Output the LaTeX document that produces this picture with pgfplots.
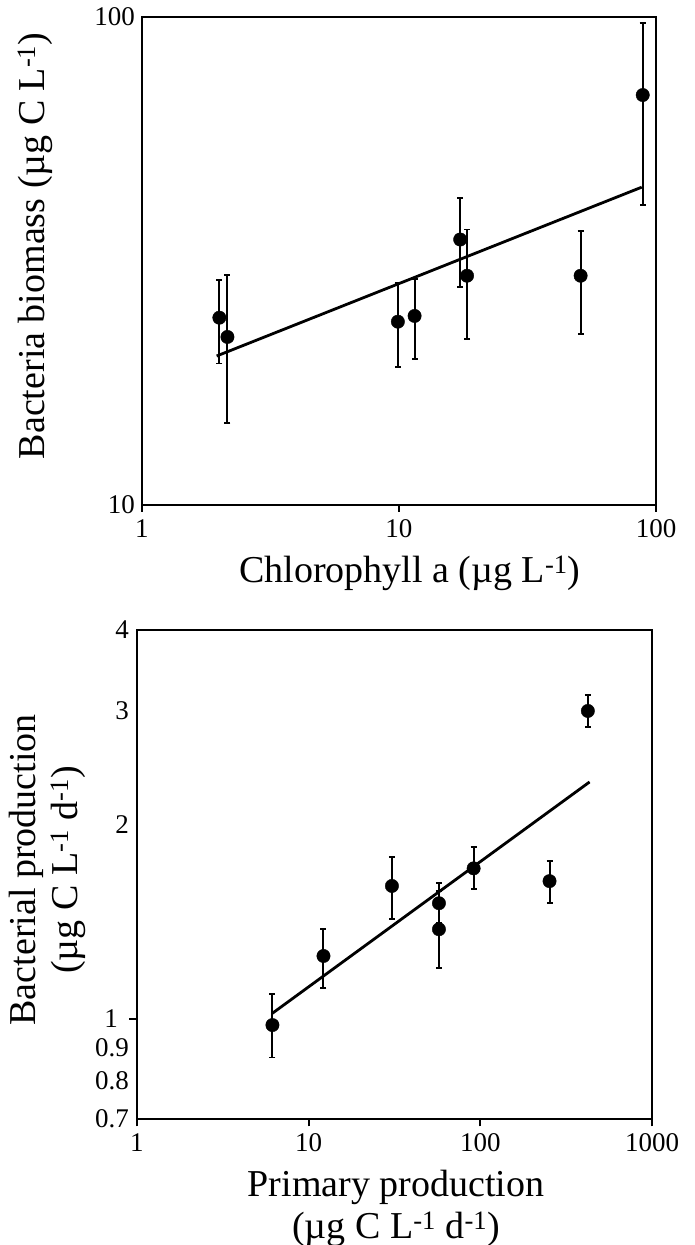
\documentclass[border=0pt]{standalone}
\usepackage{fontspec}
\setmainfont{Liberation Serif}
\usepackage{pgfplots}
\usepackage{pgfplotstable}
\pgfplotsset{compat=1.18}
\newcommand\labfont{\fontsize{38}{42}\selectfont}
\newcommand\tickfont{\fontsize{27}{30}\selectfont}

\pgfplotstableread{
x y ep em
2.0 24.2 4.7 4.7
2.15 22.1 7.5 7.4
9.9 23.75 4.75 4.6
11.5 24.4 4.6 4.5
17.3 35.0 7.6 7.0
18.4 29.5 7.2 7.6
50.9 29.5 7.0 7.1
88.8 69.2 28.1 28.0
}\topdata

\pgfplotstableread{
x y
1.953 20.2
88.0 44.8
}\topfit

\pgfplotstableread{
x y ep em
6.15 0.977 0.113 0.107
12.2 1.250 0.126 0.134
30.55 1.605 0.177 0.179
57.4 1.509 0.111 0.103
57.4 1.375 0.201 0.176
91.4 1.709 0.135 0.123
253 1.633 0.121 0.121
423 2.997 0.172 0.164
}\botdata

\pgfplotstableread{
x y
6.15 1.019
433 2.326
}\botfit

\begin{document}
\begin{tikzpicture}
\useasboundingbox (0pt,0pt) rectangle (695pt,-1245pt);

\begin{axis}[
  scale only axis, anchor=south west,
  at={(142pt,-505pt)}, width=514pt, height=488pt,
  xmode=log, ymode=log,
  xmin=1, xmax=100, ymin=10, ymax=100,
  xminorticks=false, yminorticks=false,
  tick pos=left, tick align=outside, major tick length=7pt,
  axis line style={line width=2pt},
  tick style={line width=2pt, black},
  ticklabel style={font=\tickfont, inner sep=0pt},
  xticklabel style={yshift=-7pt},
  xtick={1,10,100}, xticklabels={1,10,100},
  ytick={10,100}, yticklabels={10,100},
  ytick style={draw=none},
  clip=false,
  xlabel={Chlorophyll a (µg L\textsuperscript{-1})},
  ylabel={Bacteria biomass (µg C L\textsuperscript{-1})},
  xlabel style={at={(axis description cs:0.521,-0.139)}, anchor=center, font=\labfont},
  ylabel style={at={(axis description cs:-0.208,0.531)}, anchor=center, font=\labfont},
]
\addplot[only marks, mark=*, mark size=6.7pt, black,
  error bars/y dir=both, error bars/y explicit,
  error bars/error bar style={line width=2pt, black},
  error bars/error mark options={rotate=90, mark size=3pt, line width=1.8pt, black}]
  table[x=x, y=y, y error plus=ep, y error minus=em] {\topdata};
\addplot[black, line width=2.8pt, no marks] table[x=x, y=y] {\topfit};
\end{axis}

\begin{axis}[
  scale only axis, anchor=south west,
  at={(137pt,-1118.5pt)}, width=515pt, height=488.5pt,
  xmode=log, ymode=log,
  xmin=1, xmax=1000, ymin=0.7, ymax=4,
  xminorticks=false, yminorticks=false,
  tick pos=left, tick align=outside, major tick length=8pt,
  axis line style={line width=2pt},
  tick style={line width=2pt, black},
  ticklabel style={font=\tickfont, inner sep=0pt},
  xticklabel style={yshift=-7pt},
  clip=false,
  xtick={1,10,100,1000}, xticklabels={1,10,100,1000},
  ytick={1}, yticklabels={1},
  yticklabel style={xshift=-11pt},
  extra y ticks={0.7,0.8,0.9,2,3,4},
  extra y tick labels={0.7,0.8,0.9,2,3,4},
  extra y tick style={major tick length=0pt, tick style={draw=none}, yticklabel style={xshift=3pt}},
  xlabel={Primary production\\(µg C L\textsuperscript{-1} d\textsuperscript{-1})},
  ylabel={Bacterial production\\(µg C L\textsuperscript{-1} d\textsuperscript{-1})},
  xlabel style={at={(axis description cs:0.503,-0.185)}, anchor=center, align=center, font=\labfont},
  ylabel style={at={(axis description cs:-0.173,0.509)}, anchor=center, align=center, font=\labfont},
]
\addplot[only marks, mark=*, mark size=6.7pt, black,
  error bars/y dir=both, error bars/y explicit,
  error bars/error bar style={line width=2pt, black},
  error bars/error mark options={rotate=90, mark size=3pt, line width=1.8pt, black}]
  table[x=x, y=y, y error plus=ep, y error minus=em] {\botdata};
\addplot[black, line width=2.8pt, no marks] table[x=x, y=y] {\botfit};
\end{axis}
\end{tikzpicture}
\end{document}
